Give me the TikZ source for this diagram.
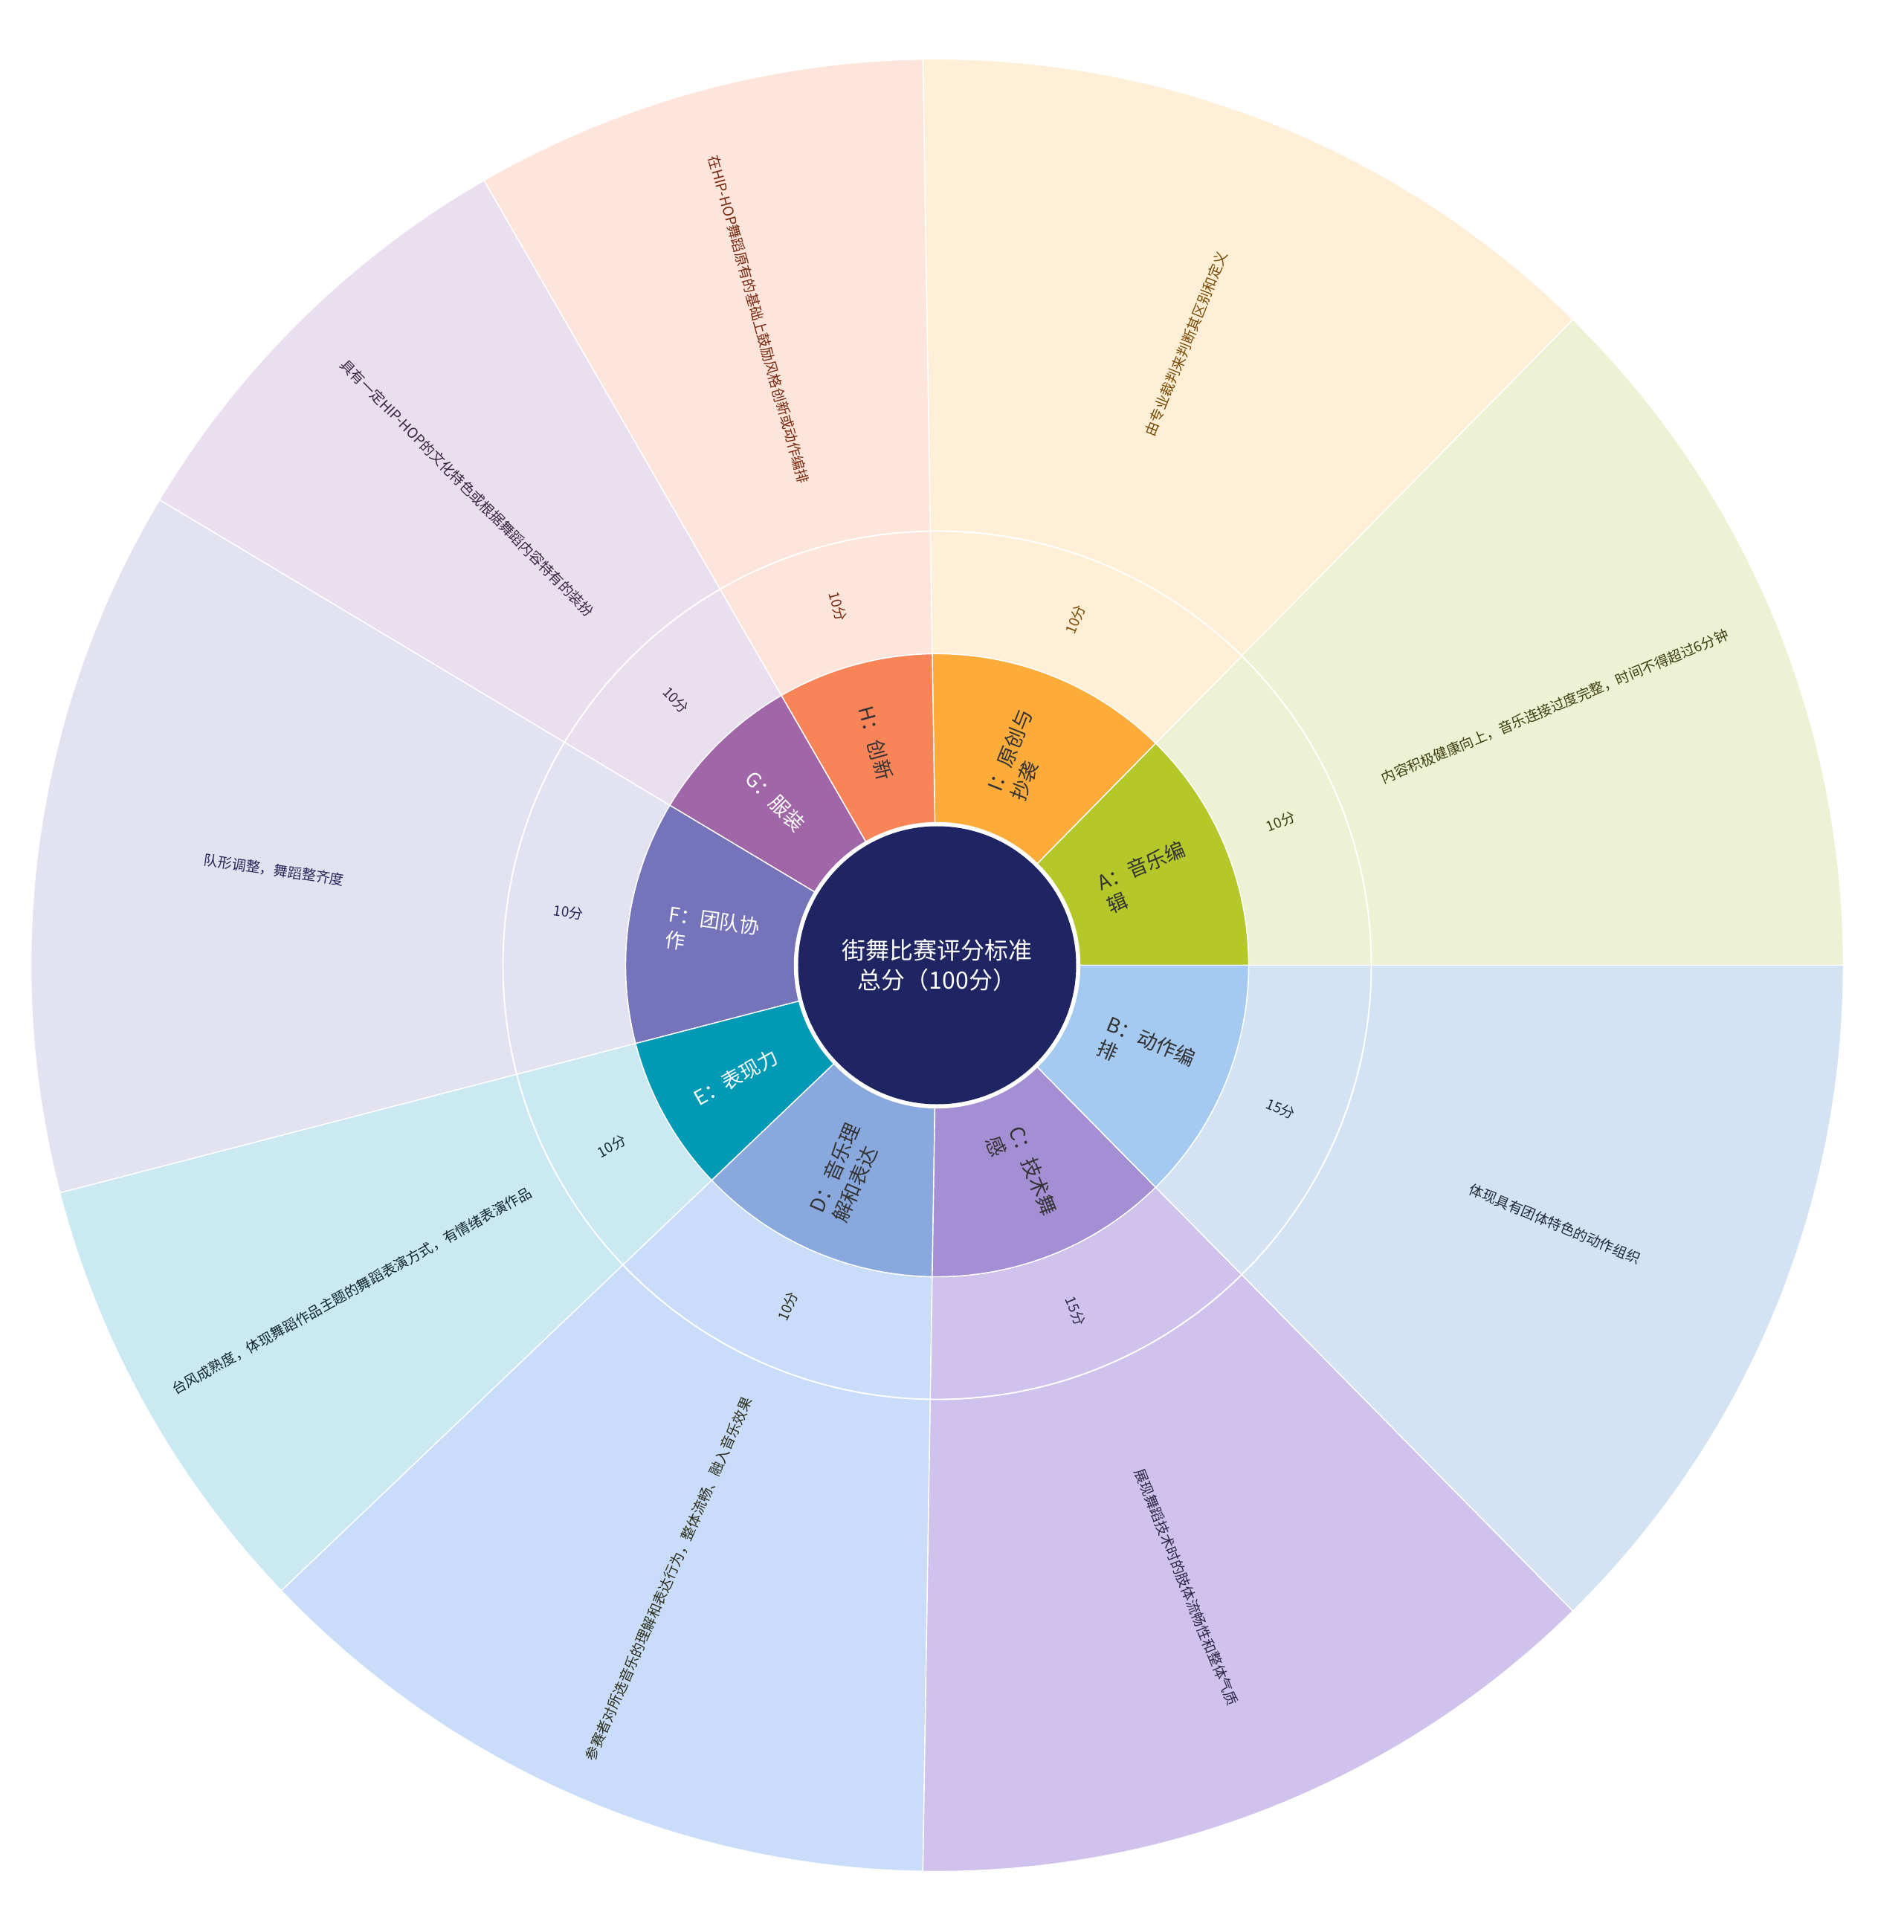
\documentclass[tikz,border=0pt]{standalone}
\usepackage{fontspec}
\setmainfont{Noto Sans CJK SC}
% colori
\definecolor{cNavy}{HTML}{1F2462}
\definecolor{cA}{HTML}{B5C82A}\definecolor{pA}{HTML}{EEF2D4}\definecolor{dA}{HTML}{3B3F10}
\definecolor{cB}{HTML}{A5CAF2}\definecolor{pB}{HTML}{D4E3F3}\definecolor{dB}{HTML}{1E2B3A}
\definecolor{cC}{HTML}{A48ED4}\definecolor{pC}{HTML}{CFC2EC}\definecolor{dC}{HTML}{2E2645}
\definecolor{cD}{HTML}{89A9DE}\definecolor{pD}{HTML}{C9DDFB}\definecolor{dD}{HTML}{2B2E1A}
\definecolor{cE}{HTML}{009AB6}\definecolor{pE}{HTML}{CBE9F2}\definecolor{dE}{HTML}{11262D}
\definecolor{cF}{HTML}{7574BB}\definecolor{pF}{HTML}{E3E2F0}\definecolor{dF}{HTML}{26265A}
\definecolor{cG}{HTML}{A066A8}\definecolor{pG}{HTML}{EADFEE}\definecolor{dG}{HTML}{3A2740}
\definecolor{cH}{HTML}{F98458}\definecolor{pH}{HTML}{FDE5DC}\definecolor{dH}{HTML}{7A2A10}
\definecolor{cI}{HTML}{FDAB39}\definecolor{pI}{HTML}{FEEFD6}\definecolor{dI}{HTML}{7A4A05}
\begin{document}
\begin{tikzpicture}[
    seg/.style={draw=white, line width=0.8pt},
    lab/.style={font=\fontsize{15.4}{19.3}\selectfont, align=left, text=black!80, inner sep=0pt},
    score/.style={font=\fontsize{10.8}{13}\selectfont, inner sep=0pt},
    desc/.style={font=\fontsize{10.8}{13}\selectfont, inner sep=0pt}
  ]
            % Sfondo
            \fill[white] (-25.21,-26.01) rectangle (25.99,25.97);
            \useasboundingbox (-25.21,-26.01) rectangle (25.99,25.97);
            % Anello esterno
            \filldraw[seg, fill=pA] (0:8.38) arc (0:45.45:8.38) -- (45.45:24.38) arc (45.45:0:24.38) -- cycle;
            \filldraw[seg, fill=pI] (45.45:8.38) arc (45.45:90.9:8.38) -- (90.9:24.38) arc (90.9:45.45:24.38) -- cycle;
            \filldraw[seg, fill=pH] (90.9:8.38) arc (90.9:120:8.38) -- (120:24.38) arc (120:90.9:24.38) -- cycle;
            \filldraw[seg, fill=pG] (120:8.38) arc (120:149.1:8.38) -- (149.1:24.38) arc (149.1:120:24.38) -- cycle;
            \filldraw[seg, fill=pF] (149.1:8.38) arc (149.1:194.55:8.38) -- (194.55:24.38) arc (194.55:149.1:24.38) -- cycle;
            \filldraw[seg, fill=pE] (194.55:8.38) arc (194.55:223.65:8.38) -- (223.65:24.38) arc (223.65:194.55:24.38) -- cycle;
            \filldraw[seg, fill=pD] (223.65:8.38) arc (223.65:269.1:8.38) -- (269.1:24.38) arc (269.1:223.65:24.38) -- cycle;
            \filldraw[seg, fill=pC] (269.1:8.38) arc (269.1:314.55:8.38) -- (314.55:24.38) arc (314.55:269.1:24.38) -- cycle;
            \filldraw[seg, fill=pB] (314.55:8.38) arc (314.55:360:8.38) -- (360:24.38) arc (360:314.55:24.38) -- cycle;
            \draw[white, line width=1.1pt] (0,0) circle (11.68);
            % Anello interno
            \filldraw[seg, fill=cA] (0:3.84) arc (0:45.45:3.84) -- (45.45:8.38) arc (45.45:0:8.38) -- cycle;
            \filldraw[seg, fill=cI] (45.45:3.84) arc (45.45:90.9:3.84) -- (90.9:8.38) arc (90.9:45.45:8.38) -- cycle;
            \filldraw[seg, fill=cH] (90.9:3.84) arc (90.9:120:3.84) -- (120:8.38) arc (120:90.9:8.38) -- cycle;
            \filldraw[seg, fill=cG] (120:3.84) arc (120:149.1:3.84) -- (149.1:8.38) arc (149.1:120:8.38) -- cycle;
            \filldraw[seg, fill=cF] (149.1:3.84) arc (149.1:194.55:3.84) -- (194.55:8.38) arc (194.55:149.1:8.38) -- cycle;
            \filldraw[seg, fill=cE] (194.55:3.84) arc (194.55:223.65:3.84) -- (223.65:8.38) arc (223.65:194.55:8.38) -- cycle;
            \filldraw[seg, fill=cD] (223.65:3.84) arc (223.65:269.1:3.84) -- (269.1:8.38) arc (269.1:223.65:8.38) -- cycle;
            \filldraw[seg, fill=cC] (269.1:3.84) arc (269.1:314.55:3.84) -- (314.55:8.38) arc (314.55:269.1:8.38) -- cycle;
            \filldraw[seg, fill=cB] (314.55:3.84) arc (314.55:360:3.84) -- (360:8.38) arc (360:314.55:8.38) -- cycle;
            % Centro
            \fill[cNavy] (0,0) circle (3.74);
            \node[font=\fontsize{18.2}{22.4}\selectfont, align=center, text=white] (cen) at (0,0) {街舞比赛评分标准\\总分（100分）};
            % Categorie
            \node[lab, rotate=22.725] (lA) at (22.725:6.1) {A：音乐编\\辑};
            \node[lab, rotate=68.175] (lI) at (68.175:6.1) {I：原创与\\抄袭};
            \node[lab, rotate=-74.55] (lH) at (105.45:6.2) {H：创新};
            \node[lab, rotate=-45.45, text=white] (lG) at (134.55:6.2) {G：服装};
            \node[lab, rotate=-8.175, text=white] (lF) at (171.825:6.1) {F：团队协\\作};
            \node[lab, rotate=29.1, text=white] (lE) at (209.1:6.2) {E：表现力};
            \node[lab, rotate=66.375] (lD) at (246.375:6.1) {D：音乐理\\解和表达};
            \node[lab, rotate=-68.175] (lC) at (291.825:6.1) {C：技术舞\\感};
            \node[lab, rotate=-22.725] (lB) at (337.275:6.1) {B：动作编\\排};
            % Punteggi
            \node[score, text=dA, rotate=22.725] (sA) at (22.725:10.02) {10分};
            \node[score, text=dI, rotate=68.175] (sI) at (68.175:10.02) {10分};
            \node[score, text=dH, rotate=-74.55] (sH) at (105.45:10.02) {10分};
            \node[score, text=dG, rotate=-45.45] (sG) at (134.55:10.02) {10分};
            \node[score, text=dF, rotate=-8.175] (sF) at (171.825:10.02) {10分};
            \node[score, text=dE, rotate=29.1] (sE) at (209.1:10.02) {10分};
            \node[score, text=dD, rotate=66.375] (sD) at (246.375:10.02) {10分};
            \node[score, text=dC, rotate=-68.175] (sC) at (291.825:10.02) {15分};
            \node[score, text=dB, rotate=-22.725] (sB) at (337.275:10.02) {15分};
            % Descrizioni
            \node[desc, text=dA, rotate=22.725] (tA) at (22.725:18.02) {内容积极健康向上，音乐连接过度完整，时间不得超过6分钟};
            \node[desc, text=dI, rotate=68.175] (tI) at (68.175:18.02) {由专业裁判来判断其区别和定义};
            \node[desc, text=dH, rotate=-74.55] (tH) at (105.45:18.02) {在HIP-HOP舞蹈原有的基础上鼓励风格创新或动作编排};
            \node[desc, text=dG, rotate=-45.45] (tG) at (134.55:18.02) {具有一定HIP-HOP的文化特色或根据舞蹈内容特有的装扮};
            \node[desc, text=dF, rotate=-8.175] (tF) at (171.825:18.02) {队形调整，舞蹈整齐度};
            \node[desc, text=dE, rotate=29.1] (tE) at (209.1:18.02) {台风成熟度，体现舞蹈作品主题的舞蹈表演方式，有情绪表演作品};
            \node[desc, text=dD, rotate=66.375] (tD) at (246.375:18.02) {参赛者对所选音乐的理解和表达行为，整体流畅、融入音乐效果};
            \node[desc, text=dC, rotate=-68.175] (tC) at (291.825:18.02) {展现舞蹈技术时的肢体流畅性和整体气质};
            \node[desc, text=dB, rotate=-22.725] (tB) at (337.275:18.02) {体现具有团体特色的动作组织};
\end{tikzpicture}
\end{document}
